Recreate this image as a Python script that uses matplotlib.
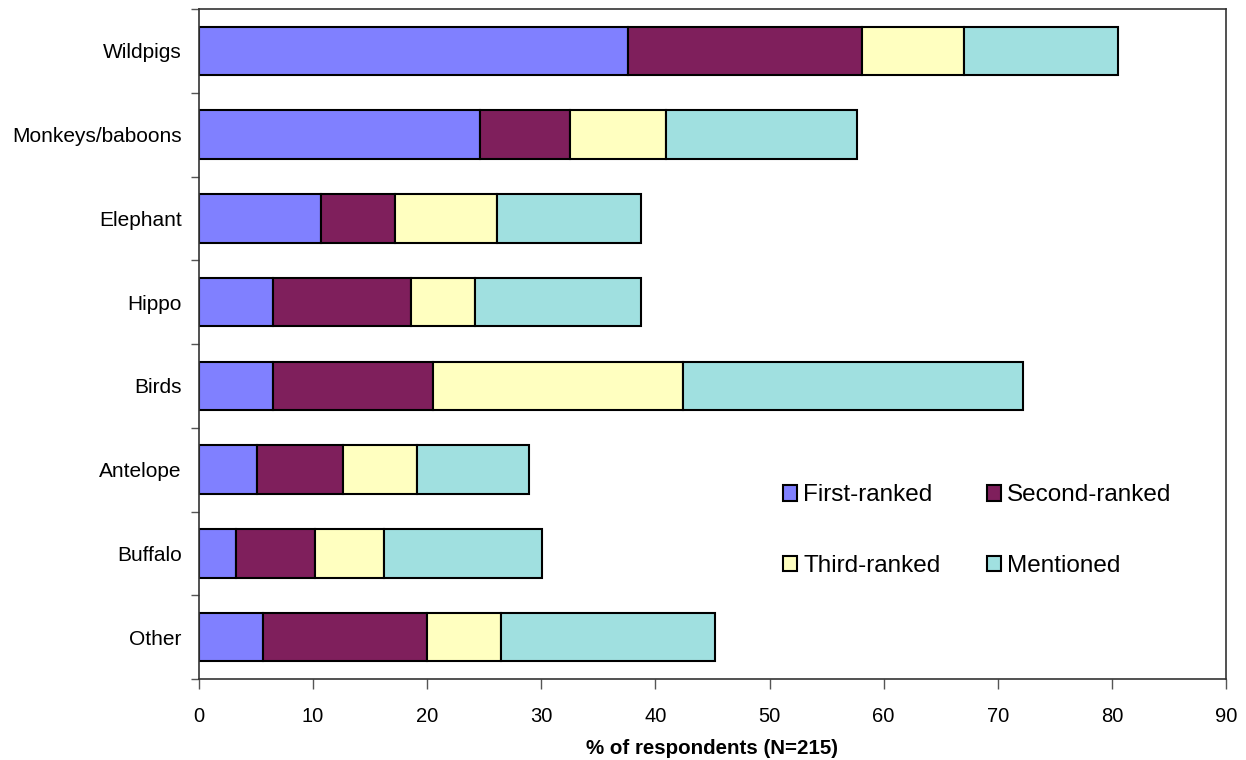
import matplotlib.pyplot as plt
import numpy as np

plt.rcParams["font.family"] = ["Liberation Sans", "DejaVu Sans"]

animals = [
    "Wildpigs",
    "Monkeys/baboons",
    "Elephant",
    "Hippo",
    "Birds",
    "Antelope",
    "Buffalo",
    "Other",
]

# % of respondents per ranking
first_ranked = [37.6, 24.6, 10.7, 6.5, 6.5, 5.1, 3.2, 5.6]
second_ranked = [20.5, 7.9, 6.5, 12.1, 14.0, 7.5, 7.0, 14.4]
third_ranked = [8.9, 8.4, 8.9, 5.6, 21.9, 6.5, 6.0, 6.5]
mentioned = [13.5, 16.8, 12.6, 14.5, 29.8, 9.8, 13.9, 18.7]

series = [
    ("First-ranked", first_ranked, "#8080ff"),
    ("Second-ranked", second_ranked, "#7f1f5c"),
    ("Third-ranked", third_ranked, "#ffffc0"),
    ("Mentioned", mentioned, "#a0e0e0"),
]

fig = plt.figure(figsize=(12.46, 7.6), dpi=100)
ax = fig.add_axes([199 / 1246, 81 / 760, 1027 / 1246, 670 / 760])

y = np.arange(len(animals))
left = np.zeros(len(animals))
bars = {}
for label, values, color in series:
    bars[label] = ax.barh(
        y,
        values,
        left=left,
        height=0.58,
        color=color,
        edgecolor="black",
        linewidth=1.5,
        label=label,
    )
    left += np.array(values)

ax.set_ylim(len(animals) - 0.5, -0.5)
ax.set_xlim(0, 90)
ax.set_xticks(np.arange(0, 91, 10))
ax.set_yticks(y)
ax.set_yticklabels(animals, fontsize=15)
ax.set_yticks(np.arange(-0.5, len(animals)), minor=True)
ax.tick_params(axis="y", which="major", length=0, pad=12.5)
ax.tick_params(axis="y", which="minor", length=6, width=1, color="#555555")
ax.tick_params(axis="x", length=7, width=1, labelsize=14.5, pad=13.5, color="#555555")

for spine in ax.spines.values():
    spine.set_linewidth(1.2)
    spine.set_color("#333333")

ax.set_xlabel("% of respondents (N=215)", fontsize=14.8, fontweight="bold", labelpad=9)

# row-wise legend: First/Second on top, Third/Mentioned below
order = ["First-ranked", "Third-ranked", "Second-ranked", "Mentioned"]
ax.legend(
    [bars[k] for k in order],
    order,
    loc="upper left",
    bbox_to_anchor=(0.547, 0.323),
    ncol=2,
    frameon=False,
    fontsize=17.5,
    handlelength=0.6,
    handleheight=0.6,
    handletextpad=0.25,
    labelspacing=2.0,
    columnspacing=1.9,
)

fig.savefig("out.png", dpi=100)
